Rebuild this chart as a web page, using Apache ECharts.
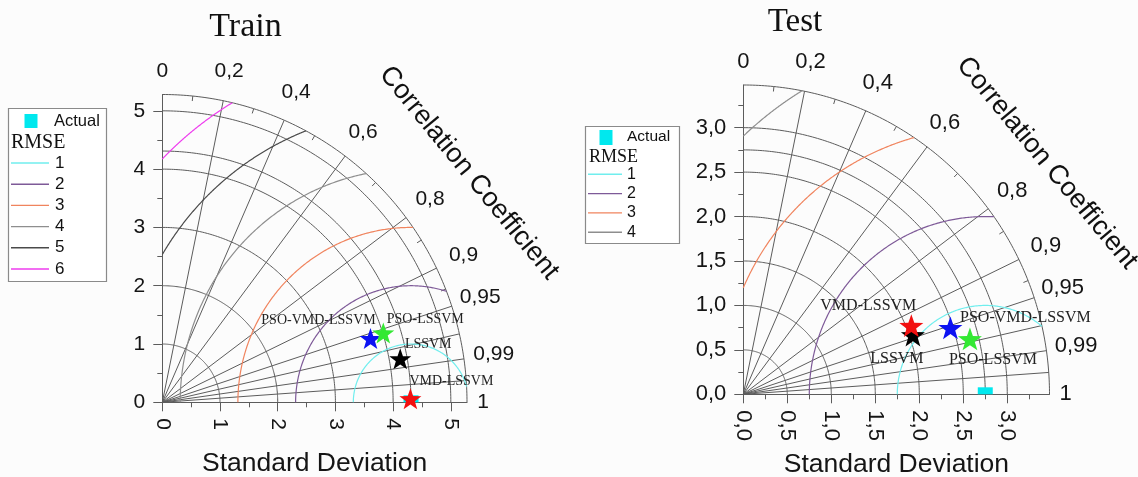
<!DOCTYPE html>
<html>
<head>
<meta charset="utf-8">
<script src="https://cdn.jsdelivr.net/npm/echarts@6/dist/echarts.min.js"></script>
<style>
html, body { margin: 0; padding: 0; background: #fcfcfc; }
#chart { width: 1138px; height: 477px; }
</style>
</head>
<body>
<div id="chart"></div>
<script>
// ---- data ----
const panelTitles = ['Train', 'Test'];
const modelNames = ['PSO-VMD-LSSVM', 'PSO-LSSVM', 'LSSVM', 'VMD-LSSVM'];
const modelColors = ['#0c12f2', '#33e833', '#000000', '#f21010'];

// standard deviation and correlation coefficient of every model
const trainStd  = [3.77, 4.01, 4.19, 4.30];
const trainCorr = [0.957, 0.955, 0.984, 0.9999];
const testStd   = [2.47, 2.65, 2.04, 2.06];
const testCorr  = [0.953, 0.972, 0.945, 0.927];

// observed (reference) standard deviation and the radial extent of each diagram
const trainRefStd = 4.31;
const testRefStd  = 2.75;
const trainMaxStd = 5.28;
const testMaxStd  = 3.48;

// standard deviation axis ticks and arcs
const trainStdTicks = [0, 1, 2, 3, 4, 5];
const trainStdMinor = [0.5, 1.5, 2.5, 3.5, 4.5];
const trainStdArcs  = [1, 2, 3, 4, 5];
const testStdTicks  = [0, 0.5, 1, 1.5, 2, 2.5, 3];
const testStdMinor  = [0.25, 0.75, 1.25, 1.75, 2.25, 2.75, 3.25];
const testStdArcs   = [0.5, 1, 1.5, 2, 2.5, 3];

// correlation coefficient scale
const corrLabels = [0, 0.2, 0.4, 0.6, 0.8, 0.9, 0.95, 0.99, 1];
const corrGrid   = [0.2, 0.4, 0.6, 0.8, 0.9, 0.95, 0.975, 0.99, 0.9975];
const corrMinor  = [0.1, 0.3, 0.5, 0.7, 0.85, 0.93];

// centred RMSE contour levels
const trainRmse  = [1, 2, 3, 4, 5, 6];
const testRmse   = [1, 2, 3, 4];
const rmseColors = ['#70eeee', '#7e5a98', '#f0845e', '#8e8e8e', '#4a4a4a', '#ee3cee'];

// ---- layout ----
const SANS = 'Liberation Sans';
const SERIF = 'Liberation Serif';
const GRID_COLOR = '#5c5c5c';
const STAR = 'path://M0,-10 L2.35,-3.24 L9.51,-3.09 L3.8,1.24 L5.88,8.09 L0,4 L-5.88,8.09 L-3.8,1.24 L-9.51,-3.09 L-2.35,-3.24 Z';

const panels = [
  {
    title: panelTitles[0], std: trainStd, corr: trainCorr, ref: trainRefStd, max: trainMaxStd,
    ticks: trainStdTicks, minor: trainStdMinor, arcs: trainStdArcs, rmse: trainRmse,
    fmt: v => String(v),
    grid: { left: 162.3, top: 94.5, width: 304.7, height: 307.8 },
    nameGap: 48,
    titlePos: [245.5, 27], titleSize: 34,
    corrTitlePos: [469, 173], corrTitleRot: -50.7,
    labelSize: 21, starSize: 22, starFont: 14,
    starOffsets: [[-52, -18], [42, -14], [28, -14], [41, -17]],
    legend: { x: 8, y: 108, w: 98, h: 173, sq: [24.5, 114, 13, 14], actual: [54, 121, 16.5],
              rmseTitle: [11, 143, 20], row0: 163, rowStep: 21.2, line: [11, 49], num: [55, 17] }
  },
  {
    title: panelTitles[1], std: testStd, corr: testCorr, ref: testRefStd, max: testMaxStd,
    ticks: testStdTicks, minor: testStdMinor, arcs: testStdArcs, rmse: testRmse,
    fmt: v => v.toFixed(1).replace('.', ','),
    grid: { left: 743.3, top: 85, width: 306.2, height: 309.3 },
    nameGap: 57,
    titlePos: [795, 22.5], titleSize: 33,
    corrTitlePos: [1047, 163], corrTitleRot: -50.3,
    labelSize: 22, starSize: 24, starFont: 16,
    starOffsets: [[75, -10], [23, 21], [-16, 24], [-43, -20]],
    legend: { x: 585, y: 126, w: 94, h: 117, sq: [599.5, 130, 13, 15], actual: [627, 137, 15.5],
              rmseTitle: [589, 157.7, 18], row0: 174.3, rowStep: 19.3, line: [588, 622], num: [627, 16] }
  }
];

const corrFmt = v => String(v).replace('.', ',');

function arcPoints(api, r, n) {
  const pts = [];
  for (let i = 0; i <= n; i++) {
    const a = (Math.PI / 2) * i / n;
    pts.push(api.coord([r * Math.cos(a), r * Math.sin(a)]));
  }
  return pts;
}

// part of the RMSE circle around the reference point that lies inside the quarter disc
function rmsePoints(api, c, rho, R, n) {
  const clamp = v => Math.max(-1, Math.min(1, v));
  const t1 = Math.acos(clamp((R * R - c * c - rho * rho) / (2 * c * rho)));
  const t2 = Math.acos(clamp(-c / rho));
  const pts = [];
  if (t1 >= t2) return pts;
  for (let i = 0; i <= n; i++) {
    const t = t1 + (t2 - t1) * i / n;
    pts.push(api.coord([c + rho * Math.cos(t), rho * Math.sin(t)]));
  }
  return pts;
}

const grids = [], xAxes = [], yAxes = [], series = [], graphics = [];

panels.forEach((p, k) => {
  grids.push(Object.assign({ containLabel: false, outerBoundsMode: 'none' }, p.grid));
  const ai = k * 2;
  const labelStyle = { fontFamily: SANS, fontSize: p.labelSize, color: '#151515' };

  xAxes.push({
    type: 'value', gridIndex: k, min: 0, max: p.max, position: 'bottom',
    axisLine: { show: true, onZero: false, lineStyle: { color: GRID_COLOR, width: 1 } },
    axisTick: { show: true, customValues: p.ticks, length: 9, lineStyle: { color: GRID_COLOR } },
    axisLabel: Object.assign({ show: true, customValues: p.ticks, rotate: -90, margin: 16, formatter: p.fmt }, labelStyle),
    splitLine: { show: false },
    name: 'Standard Deviation', nameLocation: 'middle', nameGap: p.nameGap,
    nameTextStyle: { fontFamily: SANS, fontSize: 26.5, color: '#151515' }
  });
  xAxes.push({
    type: 'value', gridIndex: k, min: 0, max: p.max, position: 'bottom',
    axisLine: { show: false }, axisLabel: { show: false }, splitLine: { show: false },
    axisTick: { show: true, customValues: p.minor, length: 5, lineStyle: { color: GRID_COLOR } }
  });
  yAxes.push({
    type: 'value', gridIndex: k, min: 0, max: p.max, position: 'left',
    axisLine: { show: true, onZero: false, lineStyle: { color: GRID_COLOR, width: 1 } },
    axisTick: { show: true, customValues: p.ticks, length: 9, lineStyle: { color: GRID_COLOR } },
    axisLabel: Object.assign({ show: true, customValues: p.ticks, margin: 17, formatter: p.fmt }, labelStyle),
    splitLine: { show: false }
  });
  yAxes.push({
    type: 'value', gridIndex: k, min: 0, max: p.max, position: 'left',
    axisLine: { show: false }, axisLabel: { show: false }, splitLine: { show: false },
    axisTick: { show: true, customValues: p.minor, length: 5, lineStyle: { color: GRID_COLOR } }
  });

  const base = { type: 'custom', coordinateSystem: 'cartesian2d', xAxisIndex: ai, yAxisIndex: ai, silent: true, animation: false };

  // standard deviation arcs, reference arc and outer boundary
  series.push(Object.assign({}, base, {
    name: p.title + ' std arcs', z: 2,
    data: p.arcs.concat([p.ref, p.max]).map(v => [v, 0]),
    renderItem: (params, api) => ({
      type: 'polyline', shape: { points: arcPoints(api, api.value(0), 160) },
      style: { stroke: GRID_COLOR, lineWidth: 1, fill: null }
    })
  }));

  // radial correlation lines
  series.push(Object.assign({}, base, {
    name: p.title + ' corr lines', z: 2,
    data: corrGrid.map(v => [v, 0]),
    renderItem: (params, api) => {
      const r = api.value(0);
      const a = api.coord([0, 0]);
      const b = api.coord([p.max * r, p.max * Math.sqrt(1 - r * r)]);
      return { type: 'line', shape: { x1: a[0], y1: a[1], x2: b[0], y2: b[1] },
               style: { stroke: GRID_COLOR, lineWidth: 1 } };
    }
  }));

  // correlation ticks on the outer arc
  series.push(Object.assign({}, base, {
    name: p.title + ' corr ticks', z: 2,
    data: corrMinor.map(v => [v, 0]),
    renderItem: (params, api) => {
      const r = api.value(0);
      const o = api.coord([0, 0]);
      const b = api.coord([p.max * r, p.max * Math.sqrt(1 - r * r)]);
      const dx = b[0] - o[0], dy = b[1] - o[1], len = Math.hypot(dx, dy);
      return { type: 'line', shape: { x1: b[0], y1: b[1], x2: b[0] - dx / len * 5, y2: b[1] - dy / len * 5 },
               style: { stroke: GRID_COLOR, lineWidth: 1 } };
    }
  }));

  // correlation labels outside the outer arc
  series.push(Object.assign({}, base, {
    name: p.title + ' corr labels', z: 3,
    data: corrLabels.map(v => [v, 0]),
    renderItem: (params, api) => {
      const r = api.value(0);
      const o = api.coord([0, 0]);
      const b = api.coord([p.max * r, p.max * Math.sqrt(1 - r * r)]);
      const dx = b[0] - o[0], dy = b[1] - o[1], len = Math.hypot(dx, dy);
      const txt = corrFmt(r);
      const gap = txt.length > 1 ? 30 : (r === 0 ? 23 : 16);
      return { type: 'text', x: b[0] + dx / len * gap, y: b[1] + dy / len * gap,
               style: { text: txt, fontFamily: SANS, fontSize: p.labelSize, fill: '#151515',
                        align: 'center', verticalAlign: 'middle' } };
    }
  }));

  // centred RMSE contours
  series.push(Object.assign({}, base, {
    name: p.title + ' rmse', z: 3,
    data: p.rmse.map(v => [v, 0]),
    renderItem: (params, api) => {
      const pts = rmsePoints(api, p.ref, api.value(0), p.max, 200);
      return { type: 'polyline', shape: { points: pts },
               style: { stroke: rmseColors[params.dataIndex], lineWidth: 1.2, fill: null } };
    }
  }));

  // observed reference point on the axis
  series.push(Object.assign({}, base, {
    name: 'Actual', z: 4,
    data: [[p.ref, 0]],
    renderItem: (params, api) => {
      const c = api.coord([api.value(0), api.value(1)]);
      return { type: 'rect', shape: { x: c[0] - 7.5, y: c[1] - 7, width: 15, height: 7 },
               style: { fill: '#00e8ee' } };
    }
  }));

  // models
  series.push({
    type: 'scatter', name: p.title + ' models', xAxisIndex: ai, yAxisIndex: ai, z: 6,
    animation: false, silent: true,
    symbol: STAR, symbolKeepAspect: true, symbolSize: p.starSize,
    data: modelNames.map((n, i) => {
      const s = p.std[i], r = p.corr[i];
      return {
        name: n, value: [s * r, s * Math.sqrt(1 - r * r)],
        itemStyle: { color: modelColors[i], opacity: 1 },
        label: { show: true, position: 'inside', offset: p.starOffsets[i], formatter: '{b}',
                 fontFamily: SERIF, fontSize: p.starFont, color: '#222' }
      };
    })
  });

  // panel title
  graphics.push({ type: 'text', x: p.titlePos[0], y: p.titlePos[1],
    style: { text: p.title, fontFamily: SERIF, fontSize: p.titleSize, fill: '#111', align: 'center', verticalAlign: 'middle' } });
  // correlation axis title
  graphics.push({ type: 'text', x: p.corrTitlePos[0], y: p.corrTitlePos[1], rotation: p.corrTitleRot * Math.PI / 180,
    style: { text: 'Correlation Coefficient', fontFamily: SANS, fontSize: 27, fill: '#111', align: 'center', verticalAlign: 'middle' } });

  // legend box
  const L = p.legend;
  graphics.push({ type: 'rect', shape: { x: L.x + 0.5, y: L.y + 0.5, width: L.w, height: L.h },
    style: { fill: '#ffffff', stroke: '#8a8a8a', lineWidth: 1.2 } });
  graphics.push({ type: 'rect', shape: { x: L.sq[0], y: L.sq[1], width: L.sq[2], height: L.sq[3] },
    style: { fill: '#00e8ee' } });
  graphics.push({ type: 'text', x: L.actual[0], y: L.actual[1],
    style: { text: 'Actual', fontFamily: SANS, fontSize: L.actual[2], fill: '#111', verticalAlign: 'middle' } });
  graphics.push({ type: 'text', x: L.rmseTitle[0], y: L.rmseTitle[1],
    style: { text: 'RMSE', fontFamily: SERIF, fontSize: L.rmseTitle[2], fill: '#111', verticalAlign: 'middle' } });
  p.rmse.forEach((lvl, i) => {
    const y = L.row0 + i * L.rowStep;
    graphics.push({ type: 'line', shape: { x1: L.line[0], y1: y, x2: L.line[1], y2: y },
      style: { stroke: rmseColors[i], lineWidth: 1.4 } });
    graphics.push({ type: 'text', x: L.num[0], y: y,
      style: { text: String(lvl), fontFamily: SANS, fontSize: L.num[1], fill: '#111', verticalAlign: 'middle' } });
  });
});

const chart = echarts.init(document.getElementById('chart'), null, { renderer: 'canvas' });
chart.setOption({
  backgroundColor: '#fcfcfc',
  animation: false,
  grid: grids,
  xAxis: xAxes,
  yAxis: yAxes,
  series: series,
  graphic: { elements: graphics }
});
</script>
</body>
</html>
